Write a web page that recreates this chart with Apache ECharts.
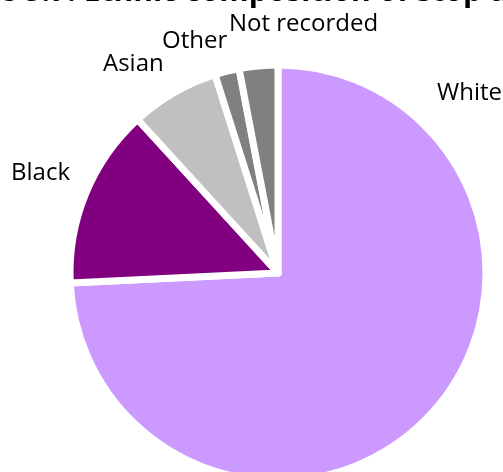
<!DOCTYPE html>
<html>
<head>
<meta charset="utf-8">
<script src="https://cdn.jsdelivr.net/npm/echarts@6/dist/echarts.min.js"></script>
<style>html,body{margin:0;padding:0;background:#fff;}#c{width:503px;height:472px;}</style>
</head>
<body>
<div id="c"></div>
<script>
const titleText = "Figure 5.7: Ethnic composition of stop and search";
const categories = ["White", "Black", "Asian", "Other", "Not recorded"];
const values = [74.3, 14.0, 6.9, 1.9, 3.0];
const colors = ["#cc99ff", "#800080", "#c0c0c0", "#808080", "#808080"];
const labelSpots = [[437, 93], [11, 173], [103, 64], [162, 41], [229, 24]];

const chart = echarts.init(document.getElementById('c'));
chart.setOption({
  animation: false,
  title: {
    text: titleText,
    left: -82,
    top: -28,
    textStyle: { fontFamily: 'Open Sans', fontWeight: 'bold', fontSize: 30, color: '#000' }
  },
  series: [{
    type: 'pie',
    center: [278, 273],
    radius: [0, 208],
    startAngle: 90,
    clockwise: true,
    avoidLabelOverlap: false,
    itemStyle: { borderColor: '#fff', borderWidth: 7 },
    label: { show: true, position: 'outside', fontFamily: 'Open Sans', fontSize: 24, color: '#000', formatter: '{b}' },
    labelLine: { show: false },
    labelLayout: function (p) {
      const s = labelSpots[p.dataIndex];
      return { x: s[0], y: s[1], align: 'left', verticalAlign: 'middle' };
    },
    emphasis: { disabled: true },
    data: categories.map((c, i) => ({ name: c, value: values[i], itemStyle: { color: colors[i] } }))
  }]
});
</script>
</body>
</html>
